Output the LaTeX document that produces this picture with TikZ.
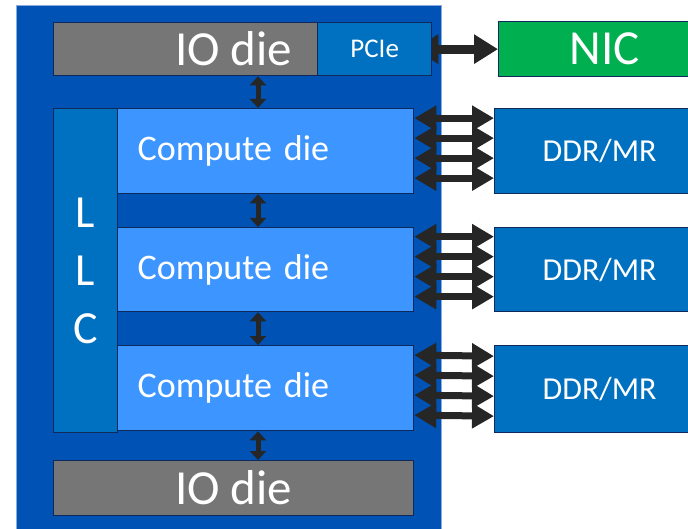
\documentclass[tikz,border=0pt]{standalone}
\usepackage{fontspec}
\setmainfont{Carlito}
\usetikzlibrary{arrows.meta}

\definecolor{pkgblue}{HTML}{0052B4}
\definecolor{pkgedge}{HTML}{8FAADC}
\definecolor{boxedge}{HTML}{0F2A5A}
\definecolor{iogray}{HTML}{767676}
\definecolor{midblue}{HTML}{0070C0}
\definecolor{cdblue}{HTML}{3D96FF}
\definecolor{nicgreen}{HTML}{00B050}
\definecolor{linkgray}{HTML}{262626}

\begin{document}
\begin{tikzpicture}[x=1pt,y=-1pt,
  chip/.style={draw=boxedge,line width=1.3pt,text=white,inner sep=0pt,anchor=north west},
  bus/.style={linkgray,line width=7pt,{Triangle[length=22pt,width=24pt]}-{Triangle[length=22pt,width=24pt]}},
  vlink/.style={linkgray,line width=5pt,{Triangle[length=9pt,width=16pt]}-{Triangle[length=9pt,width=16pt]}}]
  \useasboundingbox (0,0) rectangle (688,529);

  % package
  \node (pkg) [draw=pkgedge,line width=1pt,fill=pkgblue,minimum width=425,minimum height=545,anchor=north west] at (16,5) {};

  % dies
  \node (iotop) [chip,fill=iogray,minimum width=360,minimum height=53,font=\fontsize{49}{52}\selectfont] at (53,22) {IO die};
  \node (llc) [chip,fill=midblue,minimum width=64,minimum height=324,align=center,font=\fontsize{46}{58}\selectfont] at (53,108) {L\\L\\C};
  \node (cd1) [chip,fill=cdblue,minimum height=85,text width=256,inner xsep=20,align=left,font=\fontsize{36}{40}\selectfont] at (117,108) {Compute die};
  \node (cd2) [chip,fill=cdblue,minimum height=84,text width=256,inner xsep=20,align=left,font=\fontsize{36}{40}\selectfont] at (117,227) {Compute die};
  \node (cd3) [chip,fill=cdblue,minimum height=85,text width=256,inner xsep=20,align=left,font=\fontsize{36}{40}\selectfont] at (117,345) {Compute die};
  \node (iobot) [chip,fill=iogray,minimum width=360,minimum height=55,font=\fontsize{49}{52}\selectfont] at (53,460) {IO die};

  % outside the package
  \node (nic) [chip,fill=nicgreen,minimum width=212,minimum height=55,font=\fontsize{49}{52}\selectfont] at (498,21) {NIC};
  \node (ddr1) [chip,fill=midblue,minimum width=210,minimum height=85,font=\fontsize{32}{36}\selectfont] at (494,108) {DDR/MR};
  \node (ddr2) [chip,fill=midblue,minimum width=210,minimum height=84,font=\fontsize{32}{36}\selectfont] at (494,227) {DDR/MR};
  \node (ddr3) [chip,fill=midblue,minimum width=210,minimum height=87,font=\fontsize{32}{36}\selectfont] at (494,345) {DDR/MR};

  % PCIe link, its left head tucked under the PCIe block
  \draw[linkgray,line width=9pt,{Triangle[length=24pt,width=28pt]}-{Triangle[length=24pt,width=28pt]}] (iotop.east) -- (nic.west);
  \node (pcie) [chip,fill=midblue,minimum width=114,minimum height=53,font=\fontsize{27}{30}\selectfont] at (317,22) {PCIe};

  % die to die
  \coordinate (vx) at (258,0);
  \draw[vlink] (iotop.south -| vx) -- (cd1.north -| vx);
  \draw[vlink] (cd1.south -| vx) -- (cd2.north -| vx);
  \draw[vlink] (cd2.south -| vx) -- (cd3.north -| vx);
  \draw[vlink] (cd3.south -| vx) -- (iobot.north -| vx);

  % memory channels
  \foreach \d in {1,2,3}
    \foreach \o in {33,13,-7,-27}
      \draw[bus] ([yshift=\o]cd\d.east) -- ([yshift=\o]ddr\d.west);
\end{tikzpicture}
\end{document}
